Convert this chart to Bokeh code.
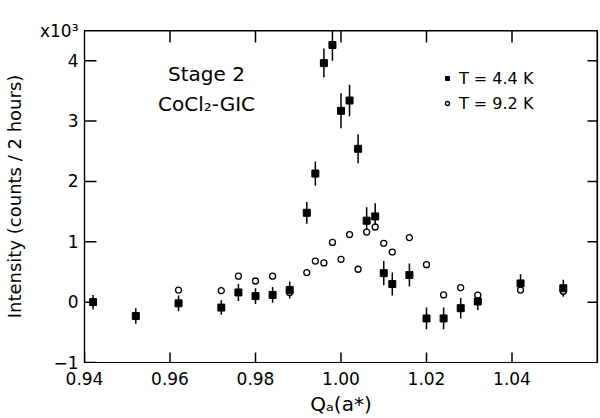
import math
from bokeh.plotting import figure
from bokeh.models import (LinearAxis, FixedTicker, NumeralTickFormatter,
                          Label, Legend, LegendItem, ColumnDataSource, Span)
from bokeh.embed import file_html
from bokeh.resources import INLINE

# ---- data (intensity in units of 10^3 counts / 2 hours) ----
q_cold = [0.942, 0.952, 0.962, 0.972, 0.976, 0.980, 0.984, 0.988, 0.992, 0.994, 0.996,
          0.998, 1.000, 1.002, 1.004, 1.006, 1.008, 1.010, 1.012, 1.016, 1.020, 1.024,
          1.028, 1.032, 1.042, 1.052]
i_cold = [0.00, -0.23, -0.02, -0.09, 0.16, 0.10, 0.12, 0.20, 1.48, 2.13, 3.96,
          4.26, 3.17, 3.34, 2.54, 1.35, 1.42, 0.48, 0.30, 0.45, -0.27, -0.27,
          -0.10, 0.01, 0.31, 0.23]
err_cold = [0.12, 0.13, 0.13, 0.12, 0.14, 0.13, 0.13, 0.14, 0.18, 0.20, 0.24,
            0.26, 0.29, 0.26, 0.24, 0.22, 0.22, 0.20, 0.19, 0.19, 0.18, 0.18,
            0.17, 0.14, 0.15, 0.14]

q_warm = [0.962, 0.972, 0.976, 0.980, 0.984, 0.988, 0.992, 0.994, 0.996, 0.998, 1.000,
          1.002, 1.004, 1.006, 1.008, 1.010, 1.012, 1.016, 1.020, 1.024, 1.028, 1.032,
          1.042, 1.052]
i_warm = [0.20, 0.19, 0.43, 0.35, 0.43, 0.16, 0.49, 0.68, 0.65, 0.99, 0.71,
          1.12, 0.545, 1.16, 1.245, 0.975, 0.83, 1.07, 0.62, 0.12, 0.24, 0.115,
          0.20, 0.18]

x_ticks = [0.94, 0.96, 0.98, 1.00, 1.02, 1.04]
x_ticks_top = [0.96, 0.98, 1.00, 1.02, 1.04]
y_ticks = [-1, 0, 1, 2, 3, 4]
y_ticks_right = [0, 1, 2, 3, 4]
labels = ["T = 4.4 K", "T = 9.2 K"]
scale_label = "x10³"

X_MIN, X_MAX = 0.94, 1.06
Y_MIN, Y_MAX = -1.0, 4.5

FONT = "DejaVu Sans"
W, H = 600, 418
BL, BR, BT, BB = 83, 3, 30, 56

p = figure(width=W, height=H, x_range=(X_MIN, X_MAX), y_range=(Y_MIN, Y_MAX),
           output_backend="svg", toolbar_location=None,
           x_axis_location=None, y_axis_location=None,
           min_border_left=BL, min_border_right=BR, min_border_top=BT, min_border_bottom=BB)
p.xgrid.visible = False
p.ygrid.visible = False
p.outline_line_color = "black"
p.outline_line_width = 1.2
p.background_fill_color = "white"
p.border_fill_color = "white"

# data units per screen pixel (for tick-mark placement)
dx = (X_MAX - X_MIN) / (W - BL - BR)
dy = (Y_MAX - Y_MIN) / (H - BT - BB)


def style_axis(ax):
    ax.major_tick_in = 0
    ax.major_tick_out = 0
    ax.minor_tick_in = 0
    ax.minor_tick_out = 0
    ax.axis_line_color = "black"
    ax.axis_line_width = 1.2
    ax.major_label_text_font = FONT
    ax.major_label_text_color = "black"
    ax.axis_label_text_font = FONT
    ax.axis_label_text_font_style = "normal"
    ax.axis_label_text_color = "black"


xb = LinearAxis(ticker=FixedTicker(ticks=x_ticks), formatter=NumeralTickFormatter(format="0.00"),
                axis_label="Qₐ(a*)")
style_axis(xb)
xb.major_label_text_font_size = "17px"
xb.major_label_standoff = 9
xb.axis_label_text_font_size = "20px"
xb.axis_label_standoff = 4
p.add_layout(xb, "below")

yl = LinearAxis(ticker=FixedTicker(ticks=y_ticks + [Y_MAX]), axis_label="Intensity (counts / 2 hours)")
style_axis(yl)
yl.major_label_overrides = {Y_MAX: scale_label}
yl.major_label_text_font_size = "17px"
yl.major_label_standoff = 6
yl.axis_label_text_font_size = "18px"
yl.axis_label_standoff = 12
p.add_layout(yl, "left")

# frame top and right sides as spans
p.add_layout(Span(location=Y_MAX, dimension="width", line_color="black", line_width=2))
p.add_layout(Span(location=X_MAX, dimension="height", line_color="black", line_width=2))

# inward tick marks: dash markers placed wholly inside the frame
tb = ColumnDataSource(dict(x=x_ticks, y=[Y_MIN + 5 * dy] * len(x_ticks)))
tt = ColumnDataSource(dict(x=x_ticks_top, y=[Y_MAX - 6 * dy] * len(x_ticks_top)))
tl = ColumnDataSource(dict(x=[X_MIN + 6 * dx] * len(y_ticks), y=y_ticks))
tr = ColumnDataSource(dict(x=[X_MAX - 5 * dx] * len(y_ticks_right), y=y_ticks_right))
p.scatter("x", "y", source=tb, marker="dash", size=10, angle=math.pi / 2,
          line_color="black", line_width=1.5)
p.scatter("x", "y", source=tt, marker="dash", size=12, angle=math.pi / 2,
          line_color="black", line_width=1.5)
p.scatter("x", "y", source=tl, marker="dash", size=12, line_color="black", line_width=1.5)
p.scatter("x", "y", source=tr, marker="dash", size=10, line_color="black", line_width=1.5)

# error bars
src_cold = ColumnDataSource(dict(q=q_cold, i=i_cold,
                                 lo=[v - e for v, e in zip(i_cold, err_cold)],
                                 hi=[v + e for v, e in zip(i_cold, err_cold)]))
p.segment(x0="q", y0="lo", x1="q", y1="hi", source=src_cold, line_color="black", line_width=1.5)

r_warm = p.scatter(q_warm, i_warm, marker="circle", size=6, fill_color="white",
                   line_color="black", line_width=1.3)
r_cold = p.scatter("q", "i", source=src_cold, marker="square", size=7,
                   fill_color="black", line_color="black")

legend = Legend(items=[LegendItem(label=labels[0], renderers=[r_cold]),
                       LegendItem(label=labels[1], renderers=[r_warm])],
                location=(358, 249), border_line_color=None, background_fill_alpha=0,
                padding=0, margin=0, spacing=5, glyph_width=10, glyph_height=20,
                label_height=20, label_standoff=7, label_text_font=FONT,
                label_text_font_size="16px", label_text_color="black")
p.add_layout(legend)

# annotations (screen units relative to frame bottom-left)
p.add_layout(Label(x=122, y=289, x_units="screen", y_units="screen", text="Stage 2",
                   text_align="center", text_baseline="alphabetic", text_font=FONT,
                   text_font_size="20px", text_color="black"))
p.add_layout(Label(x=122, y=259, x_units="screen", y_units="screen", text="CoCl₂-GIC",
                   text_align="center", text_baseline="alphabetic", text_font=FONT,
                   text_font_size="20px", text_color="black"))

open("out.html", "w").write(file_html(p, INLINE))
